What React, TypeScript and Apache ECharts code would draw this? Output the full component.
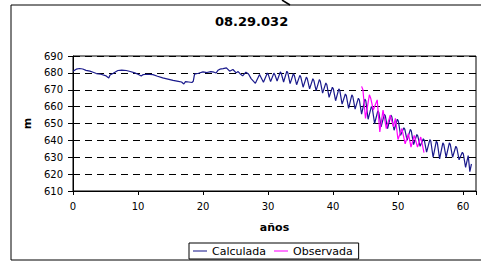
import React, { useEffect, useRef } from "react";
import * as echarts from "echarts";

const chartTitle = "08.29.032";
const xAxisName = "años";
const yAxisName = "m";
const seriesNames = ["Calculada", "Observada"];

// [año, m]
const calculada: [number, number][] = [
  [0, 681], [0.5, 682.2], [1, 682.6], [1.5, 682.3], [2, 681.5], [2.6, 681], [3.2, 680.2], [3.6, 679.6],
  [4.3, 679.2], [5.1, 678.2], [5.5, 677], [5.7, 678.7], [6.2, 679.8], [6.9, 681.4], [7.5, 681.6],
  [8.2, 681.4], [8.8, 680.8], [9.5, 680], [10, 679.2], [10.5, 678.2], [10.8, 679], [11.3, 679.2],
  [12.3, 679], [13, 678], [13.8, 677], [14.6, 676.3], [15.4, 675.6], [16.2, 675], [16.7, 674.6],
  [17.05, 673.4], [17.3, 674.8], [17.8, 674.6], [18.3, 674.3], [18.5, 675], [18.7, 679.3],
  [19.3, 679.8], [20, 680.6], [20.6, 680.2], [21.2, 680.7], [21.7, 680.4], [22, 679.9], [22.3, 681.5],
  [22.6, 682.2], [23.1, 682.5], [23.6, 683], [24.1, 681], [24.6, 682], [25.1, 680], [25.4, 680.8],
  [25.7, 679.5], [26.1, 678.2], [26.6, 680.4], [27, 679.3], [27.4, 676.6], [28.06, 673.8], [28.7, 679],
  [29.3, 674.5], [29.9, 679.9],
  [30.05, 679], [30.4, 674.8], [30.9, 679.8], [31.05, 679], [31.4, 675.2], [31.9, 680.6],
  [32.05, 679.6], [32.4, 674.6], [32.9, 681], [33.05, 680], [33.4, 673.6], [33.9, 679.5],
  [34.05, 678.5], [34.4, 673], [34.9, 678.5], [35.05, 677.5], [35.4, 671.5], [35.9, 677.5],
  [36.05, 676.5], [36.4, 670.5], [36.9, 676.5], [37.05, 675.5], [37.4, 669.5], [37.9, 676],
  [38.05, 675], [38.4, 668], [38.9, 674], [39.05, 673], [39.4, 665.5], [39.9, 671.5],
  [40.05, 670.5], [40.4, 663.5], [40.9, 670.5], [41.05, 669.5], [41.4, 661.5], [41.9, 667.5],
  [42.05, 666.5], [42.4, 659], [42.9, 667], [43.05, 666], [43.4, 658.5], [43.9, 665],
  [44.05, 664], [44.4, 655.5], [44.9, 664.5], [45.05, 663.5], [45.4, 652.5], [45.9, 660],
  [46.05, 659], [46.4, 650], [46.9, 657.5], [47.05, 656.5], [47.4, 648], [47.9, 655.5],
  [48.05, 654.5], [48.4, 647], [48.9, 655], [49.05, 654], [49.4, 646], [49.9, 652.5],
  [50.05, 651.5], [50.4, 643], [50.9, 647.5], [51.05, 646.5], [51.4, 640], [51.9, 646.5],
  [52.05, 645.5], [52.4, 637.5], [52.9, 643.5], [53.05, 642.5], [53.4, 636.5], [53.9, 641],
  [54.05, 640], [54.4, 633], [54.9, 640.5], [55.05, 639.5], [55.4, 630], [55.9, 639.5],
  [56.05, 638.5], [56.4, 629], [56.9, 638.5], [57.05, 637.5], [57.4, 630], [57.9, 638.5],
  [58.05, 637.5], [58.4, 630], [58.9, 636.5], [59.05, 635.5], [59.4, 628.5], [59.9, 633],
  [60.05, 632], [60.4, 624], [60.8, 631], [61.05, 621.5], [61.3, 626],
];

const observada: [number, number][] = [
  [44.4, 672], [44.6, 670], [45.0, 653], [45.6, 667], [45.8, 665], [46.2, 658], [46.8, 664],
  [47.2, 645], [47.7, 658], [48.2, 647], [48.8, 655], [49.3, 648], [49.6, 653], [50.0, 640.5],
  [50.6, 647], [51.1, 638], [51.6, 644], [52.0, 636], [52.5, 643], [53.0, 636], [53.5, 642],
  [54.0, 632.7],
];

const FONT = "DejaVu Sans";
const LINE_ICON = "path://M0,0 L20,0 L20,1.5 L0,1.5 Z";

export default function App() {
  const ref = useRef<HTMLDivElement>(null);
  useEffect(() => {
    if (!ref.current) return;
    const chart = echarts.init(ref.current, undefined, { renderer: "svg" });
    chart.setOption({
      animation: false,
      backgroundColor: "#fff",
      textStyle: { fontFamily: FONT, color: "#000" },
      title: {
        text: chartTitle,
        left: 215,
        top: 15,
        padding: 0,
        textStyle: { fontFamily: FONT, fontSize: 13, fontWeight: "bold", color: "#000" },
      },
      graphic: [
        {
          type: "rect",
          shape: { x: 11, y: 5, width: 475, height: 255 },
          style: { fill: "none", stroke: "#000", lineWidth: 1 },
          silent: true,
        },
        {
          type: "line",
          shape: { x1: 282, y1: 0, x2: 290, y2: 5 },
          style: { stroke: "#000", lineWidth: 1.5 },
          silent: true,
        },
      ],
      legend: {
        data: seriesNames.map((n) => ({ name: n, icon: LINE_ICON })),
        left: 189,
        top: 243,
        padding: [2, 6, 2, 4],
        itemGap: 8,
        itemWidth: 14,
        itemHeight: 1.2,
        borderColor: "#000",
        borderWidth: 1,
        borderRadius: 0,
        textStyle: { fontFamily: FONT, fontSize: 11, color: "#000", lineHeight: 12 },
      },
      grid: {
        left: 73,
        top: 56,
        right: 5,
        bottom: 72,
        show: true,
        borderColor: "#000",
        borderWidth: 1,
        containLabel: false,
      },
      xAxis: {
        type: "value",
        min: 0,
        max: 62,
        interval: 10,
        name: xAxisName,
        nameLocation: "middle",
        nameGap: 31,
        nameTextStyle: { fontFamily: FONT, fontSize: 11, fontWeight: "bold", color: "#000" },
        axisLine: { lineStyle: { color: "#000", width: 1 } },
        axisTick: { show: true, length: 4, lineStyle: { color: "#000" } },
        axisLabel: {
          fontFamily: FONT,
          fontSize: 10,
          color: "#000",
          margin: 10,
          formatter: (v: number) => (v % 10 === 0 ? String(v) : ""),
        },
        splitLine: { show: false },
      },
      yAxis: {
        type: "value",
        min: 610,
        max: 690,
        interval: 10,
        name: yAxisName,
        nameLocation: "middle",
        nameGap: 40,
        nameRotate: 90,
        nameTextStyle: { fontFamily: FONT, fontSize: 11, fontWeight: "bold", color: "#000" },
        axisLine: { show: true, lineStyle: { color: "#000", width: 1 } },
        axisTick: { show: true, length: 5, lineStyle: { color: "#000" } },
        axisLabel: { fontFamily: FONT, fontSize: 10, color: "#000", margin: 10 },
        splitLine: { show: true, lineStyle: { color: "#000", type: [7, 5], width: 1 } },
      },
      series: [
        {
          name: seriesNames[0],
          type: "line",
          data: calculada,
          symbol: "none",
          lineStyle: { color: "#1a1a8c", width: 1.2 },
          itemStyle: { color: "#1a1a8c" },
          z: 2,
        },
        {
          name: seriesNames[1],
          type: "line",
          data: observada,
          symbol: "none",
          lineStyle: { color: "#ff00ff", width: 1.2 },
          itemStyle: { color: "#ff00ff" },
          z: 3,
        },
      ],
    });
    return () => chart.dispose();
  }, []);
  return <div ref={ref} style={{ width: 481, height: 263, position: "absolute", left: 0, top: 0 }} />;
}
